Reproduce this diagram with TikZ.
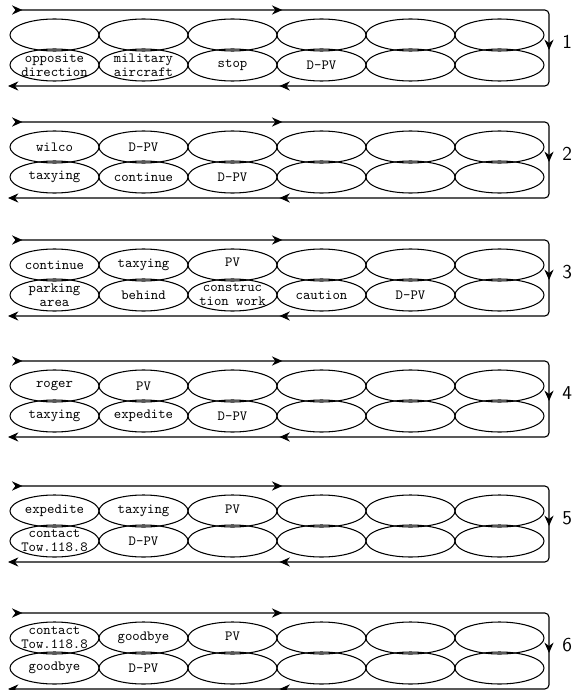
\documentclass[tikz,border=0pt]{standalone}
\usetikzlibrary{shapes,arrows.meta,positioning,decorations.markings}

\tikzset{
  slot/.style={ellipse, draw, line width=0.75pt, minimum width=2.225cm, minimum height=0.8cm, inner sep=0pt},
  word/.style={font=\ttfamily\fontsize{10}{10}\selectfont, align=center, inner sep=0pt},
  blocknum/.style={font=\sffamily\fontsize{14}{14}\selectfont, anchor=west, inner sep=0pt},
  loopline/.style={line width=0.8pt, rounded corners=3pt,
    {Stealth[reversed,length=2.6mm,width=2.3mm]}-{Stealth[length=2.6mm,width=2.3mm]},
    decoration={markings,
      mark=at position 0.235 with {\arrow{Stealth[length=2.6mm,width=2.3mm]}},
      mark=at position 0.5 with {\arrow{Stealth[length=2.6mm,width=2.3mm]}},
      mark=at position 0.764 with {\arrow{Stealth[length=2.6mm,width=2.3mm]}}},
    postaction={decorate}},
}

\begin{document}
\begin{tikzpicture}[x=0.025cm, y=-0.025cm]
  \useasboundingbox (0,0) rectangle (583,690);

  % Bloques: dos filas de seis casillas y el lazo
  \foreach \b/\y in {1/10, 2/122, 3/240, 4/361, 5/486, 6/613} {
    \coordinate (in\b) at (12,\y);
    \coordinate (turn\b) at (549,\y+38);
    \coordinate (out\b) at (8,\y+76);
    \foreach \i in {1,...,6} {
      \node[slot] (hi\b-\i) at (89*\i-34.5, \y+25) {};
      \node[slot] (lo\b-\i) at (89*\i-34.5, \y+55) {};
    }
    \draw[loopline] (in\b) -| (turn\b) |- (out\b);
    \node[blocknum] (num\b) at ([xshift=0.33cm, yshift=0.15cm]turn\b) {\b};
  }

  % Palabras, bloque 1
  \node[word] (t1-l1) at (lo1-1) {opposite\\direction};
  \node[word] (t1-l2) at (lo1-2) {military\\aircraft};
  \node[word] (t1-l3) at (lo1-3) {stop};
  \node[word] (t1-l4) at (lo1-4) {D-PV};

  % Palabras, bloque 2
  \node[word] (t2-h1) at (hi2-1) {wilco};
  \node[word] (t2-h2) at (hi2-2) {D-PV};
  \node[word] (t2-l1) at (lo2-1) {taxying};
  \node[word] (t2-l2) at (lo2-2) {continue};
  \node[word] (t2-l3) at (lo2-3) {D-PV};

  % Palabras, bloque 3
  \node[word] (t3-h1) at (hi3-1) {continue};
  \node[word] (t3-h2) at (hi3-2) {taxying};
  \node[word] (t3-h3) at ([yshift=0.08cm]hi3-3) {PV};
  \node[word] (t3-l1) at (lo3-1) {parking\\area};
  \node[word] (t3-l2) at (lo3-2) {behind};
  \node[word] (t3-l3) at (lo3-3) {construc\\tion work};
  \node[word] (t3-l4) at (lo3-4) {caution};
  \node[word] (t3-l5) at (lo3-5) {D-PV};

  % Palabras, bloque 4
  \node[word] (t4-h1) at (hi4-1) {roger};
  \node[word] (t4-h2) at (hi4-2) {PV};
  \node[word] (t4-l1) at (lo4-1) {taxying};
  \node[word] (t4-l2) at (lo4-2) {expedite};
  \node[word] (t4-l3) at (lo4-3) {D-PV};

  % Palabras, bloque 5
  \node[word] (t5-h1) at (hi5-1) {expedite};
  \node[word] (t5-h2) at (hi5-2) {taxying};
  \node[word] (t5-h3) at ([yshift=0.05cm]hi5-3) {PV};
  \node[word] (t5-l1) at (lo5-1) {contact\\Tow.118.8};
  \node[word] (t5-l2) at (lo5-2) {D-PV};

  % Palabras, bloque 6
  \node[word] (t6-h1) at (hi6-1) {contact\\Tow.118.8};
  \node[word] (t6-h2) at (hi6-2) {goodbye};
  \node[word] (t6-h3) at ([yshift=0.05cm]hi6-3) {PV};
  \node[word] (t6-l1) at (lo6-1) {goodbye};
  \node[word] (t6-l2) at (lo6-2) {D-PV};
\end{tikzpicture}
\end{document}
